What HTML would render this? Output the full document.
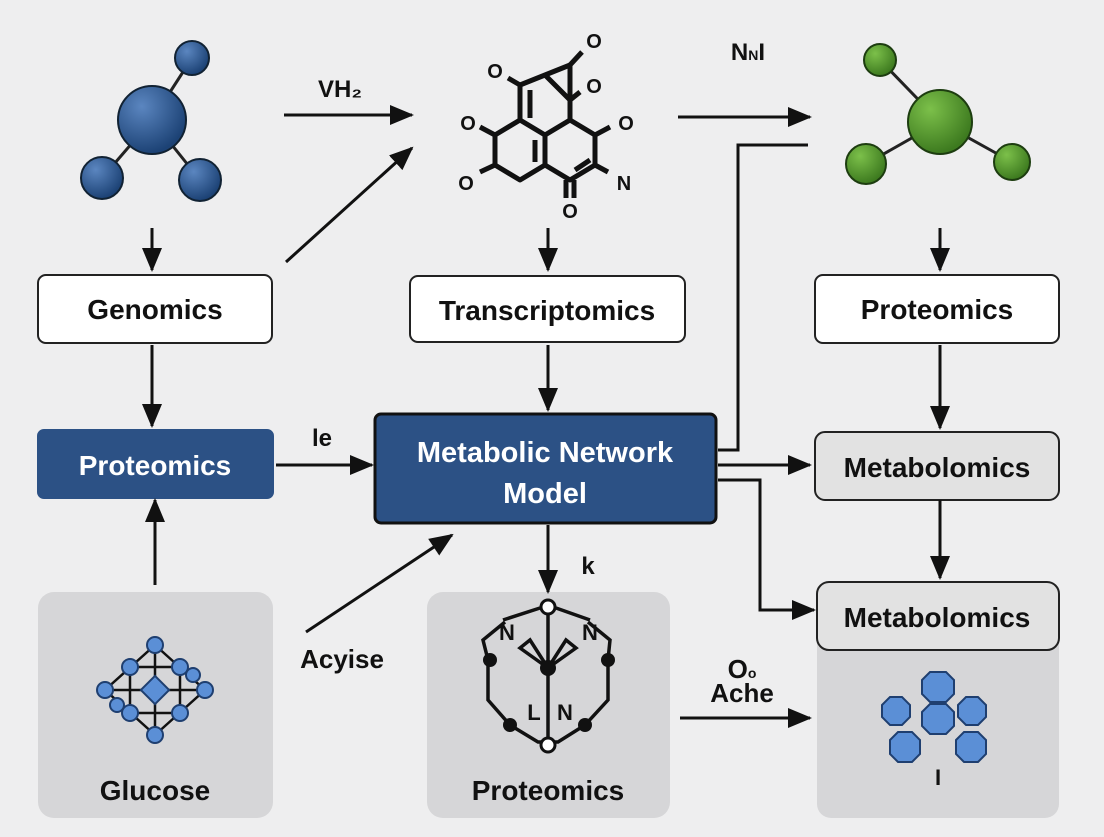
<!DOCTYPE html>
<html><head><style>
body{margin:0;width:1104px;height:832px;background:#eeeeef;font-family:"Liberation Sans",sans-serif;overflow:hidden}
svg text{font-family:"Liberation Sans",sans-serif;font-weight:bold}
</style></head><body>
<svg width="1104" height="832" viewBox="0 0 1104 832">
<defs>
<marker id="b" markerWidth="24" markerHeight="24" refX="22" refY="12" orient="auto" markerUnits="userSpaceOnUse" viewBox="0 0 24 24"><path d="M0,2L24,12L0,22z" fill="#111"/></marker>
<radialGradient id="bl" cx="0.35" cy="0.3" r="0.7"><stop offset="0" stop-color="#5b86c0"/><stop offset="1" stop-color="#1c4275"/></radialGradient>
<radialGradient id="gr" cx="0.35" cy="0.3" r="0.7"><stop offset="0" stop-color="#7cc04a"/><stop offset="1" stop-color="#3d7a1f"/></radialGradient>
</defs>
<g stroke="#222" stroke-width="3" fill="none">
<line x1="152" y1="120" x2="192" y2="58"/><line x1="152" y1="120" x2="102" y2="178"/><line x1="152" y1="120" x2="200" y2="180"/>
<line x1="940" y1="122" x2="880" y2="60"/><line x1="940" y1="122" x2="866" y2="164"/><line x1="940" y1="122" x2="1012" y2="162"/>
</g>
<g stroke="#123" stroke-width="2">
<circle cx="152" cy="120" r="34" fill="url(#bl)"/><circle cx="192" cy="58" r="17" fill="url(#bl)"/><circle cx="102" cy="178" r="21" fill="url(#bl)"/><circle cx="200" cy="180" r="21" fill="url(#bl)"/>
</g>
<g stroke="#1d3d10" stroke-width="2">
<circle cx="940" cy="122" r="32" fill="url(#gr)"/><circle cx="880" cy="60" r="16" fill="url(#gr)"/><circle cx="866" cy="164" r="20" fill="url(#gr)"/><circle cx="1012" cy="162" r="18" fill="url(#gr)"/>
</g>
<g stroke="#111" stroke-width="5" fill="none" stroke-linejoin="round">
<path d="M520,85 L545,75 L570,65 L570,100 L545,75"/>
<path d="M520,85 L520,120 L545,135 L570,120 L570,100"/>
<path d="M520,120 L495,135 L495,165 L520,180 L545,165 L545,135"/>
<path d="M570,120 L595,135 L595,165 L570,180 L545,165"/>
<line x1="530" y1="90" x2="530" y2="118"/><line x1="535" y1="140" x2="535" y2="162"/><line x1="575" y1="170" x2="590" y2="160"/>
<line x1="520" y1="85" x2="508" y2="78"/><line x1="570" y1="65" x2="582" y2="52"/><line x1="570" y1="100" x2="580" y2="92"/>
<line x1="495" y1="135" x2="480" y2="127"/><line x1="495" y1="165" x2="480" y2="172"/><line x1="595" y1="135" x2="610" y2="127"/><line x1="595" y1="165" x2="608" y2="172"/>
<line x1="566" y1="180" x2="566" y2="198"/><line x1="574" y1="180" x2="574" y2="198"/>
</g>
<g font-size="20" fill="#111" text-anchor="middle">
<text x="495" y="78">O</text><text x="594" y="48">O</text><text x="594" y="93">O</text><text x="468" y="130">O</text><text x="466" y="190">O</text><text x="626" y="130">O</text><text x="624" y="190">N</text><text x="570" y="218">O</text>
</g>
<g stroke="#222" stroke-width="2">
<rect x="38" y="275" width="234" height="68" rx="8" fill="#fff"/>
<rect x="410" y="276" width="275" height="66" rx="8" fill="#fff"/>
<rect x="815" y="275" width="244" height="68" rx="8" fill="#fff"/>
<rect x="38" y="430" width="235" height="68" rx="6" fill="#2c5185" stroke="#2c5185"/>
<rect x="375" y="414" width="341" height="109" rx="6" fill="#2c5185" stroke="#111" stroke-width="3"/>
<rect x="815" y="432" width="244" height="68" rx="10" fill="#e2e2e2"/>
</g>
<rect x="38" y="592" width="235" height="226" rx="16" fill="#d6d6d8"/>
<rect x="427" y="592" width="243" height="226" rx="16" fill="#d6d6d8"/>
<rect x="817" y="615" width="242" height="203" rx="14" fill="#d6d6d8"/>
<rect x="817" y="582" width="242" height="68" rx="12" fill="#e2e2e2" stroke="#222" stroke-width="2"/>
<g stroke="#111" stroke-width="3" fill="none" marker-end="url(#b)">
<line x1="152" y1="228" x2="152" y2="270"/>
<line x1="152" y1="345" x2="152" y2="426"/>
<line x1="155" y1="585" x2="155" y2="500"/>
<line x1="548" y1="228" x2="548" y2="270"/>
<line x1="548" y1="345" x2="548" y2="410"/>
<line x1="940" y1="228" x2="940" y2="270"/>
<line x1="940" y1="345" x2="940" y2="428"/>
<line x1="940" y1="500" x2="940" y2="578"/>
<line x1="284" y1="115" x2="412" y2="115"/>
<line x1="286" y1="262" x2="412" y2="148"/>
<line x1="678" y1="117" x2="810" y2="117"/>
<line x1="276" y1="465" x2="372" y2="465"/>
<line x1="306" y1="632" x2="452" y2="535"/>
<line x1="548" y1="525" x2="548" y2="592"/>
<line x1="718" y1="465" x2="810" y2="465"/>
<path d="M718,480 L760,480 L760,610 L814,610"/>
<line x1="680" y1="718" x2="810" y2="718"/>
</g>
<path d="M718,450 L738,450 L738,145 L808,145" stroke="#111" stroke-width="3" fill="none"/>
<g stroke="#111" stroke-width="2.5" fill="none">
<path d="M155,645 L105,690 L155,735 L205,690 Z"/>
<line x1="155" y1="645" x2="155" y2="735"/><line x1="105" y1="690" x2="205" y2="690"/>
<path d="M130,667 L180,667 L180,713 L130,713 Z"/>
</g>
<g fill="#5b8fd6" stroke="#1f3f70" stroke-width="2">
<circle cx="155" cy="645" r="8"/><circle cx="155" cy="735" r="8"/><circle cx="105" cy="690" r="8"/><circle cx="205" cy="690" r="8"/>
<circle cx="130" cy="667" r="8"/><circle cx="180" cy="667" r="8"/><circle cx="130" cy="713" r="8"/><circle cx="180" cy="713" r="8"/>
<circle cx="117" cy="705" r="7"/><circle cx="193" cy="675" r="7"/>
<rect x="145" y="680" width="20" height="20" transform="rotate(45 155 690)"/>
</g>
<g stroke="#111" stroke-width="3.5" fill="none">
<path d="M505,622 L483,640 L488,660 L488,700 L510,725 L538,742 L558,742 L585,725 L608,700 L608,660 L610,640 L588,622"/>
<line x1="548" y1="615" x2="548" y2="738"/>
<path d="M520,648 L548,668 L530,640 Z"/><path d="M576,648 L548,668 L566,640 Z"/>
<path d="M503,620 L540,608"/><path d="M556,608 L590,620"/>
</g>
<g fill="#111"><circle cx="490" cy="660" r="7"/><circle cx="608" cy="660" r="7"/><circle cx="510" cy="725" r="7"/><circle cx="585" cy="725" r="7"/><circle cx="548" cy="668" r="8"/></g>
<g fill="#fff" stroke="#111" stroke-width="3"><circle cx="548" cy="607" r="7"/><circle cx="548" cy="745" r="7"/></g>
<g font-size="22" fill="#111" text-anchor="middle"><text x="507" y="640">N</text><text x="590" y="640">N</text><text x="534" y="720">L</text><text x="565" y="720">N</text></g>
<g fill="#5b8fd6" stroke="#1f3f70" stroke-width="2">
<polygon points="882,705 890,697 902,697 910,705 910,717 902,725 890,725 882,717"/>
<polygon points="922,680 930,672 946,672 954,680 954,694 946,702 930,702 922,694"/>
<polygon points="958,705 966,697 978,697 986,705 986,717 978,725 966,725 958,717"/>
<polygon points="922,712 930,704 946,704 954,712 954,726 946,734 930,734 922,726"/>
<polygon points="890,740 898,732 912,732 920,740 920,754 912,762 898,762 890,754"/>
<polygon points="956,740 964,732 978,732 986,740 986,754 978,762 964,762 956,754"/>
</g>
<g font-size="28" fill="#111" text-anchor="middle">
<text x="155" y="319">Genomics</text>
<text x="547" y="320">Transcriptomics</text>
<text x="937" y="319">Proteomics</text>
<text x="155" y="475" fill="#fff">Proteomics</text>
<text x="545" y="462" fill="#fff" font-size="29">Metabolic Network</text>
<text x="545" y="503" fill="#fff" font-size="29">Model</text>
<text x="937" y="477">Metabolomics</text>
<text x="937" y="627">Metabolomics</text>
<text x="155" y="800">Glucose</text>
<text x="548" y="800">Proteomics</text>
<text x="938" y="785" font-size="22">I</text>
<text x="340" y="97" font-size="24">VH₂</text>
<text x="748" y="60" font-size="24">N<tspan font-size="14">N</tspan>I</text>
<text x="322" y="446" font-size="24">le</text>
<text x="342" y="668" font-size="26">Acyise</text>
<text x="588" y="574" font-size="24">k</text>
<text x="742" y="678" font-size="26">O<tspan font-size="14">o</tspan></text>
<text x="742" y="702" font-size="26">Ache</text>
</g>
</svg>
</body></html>
